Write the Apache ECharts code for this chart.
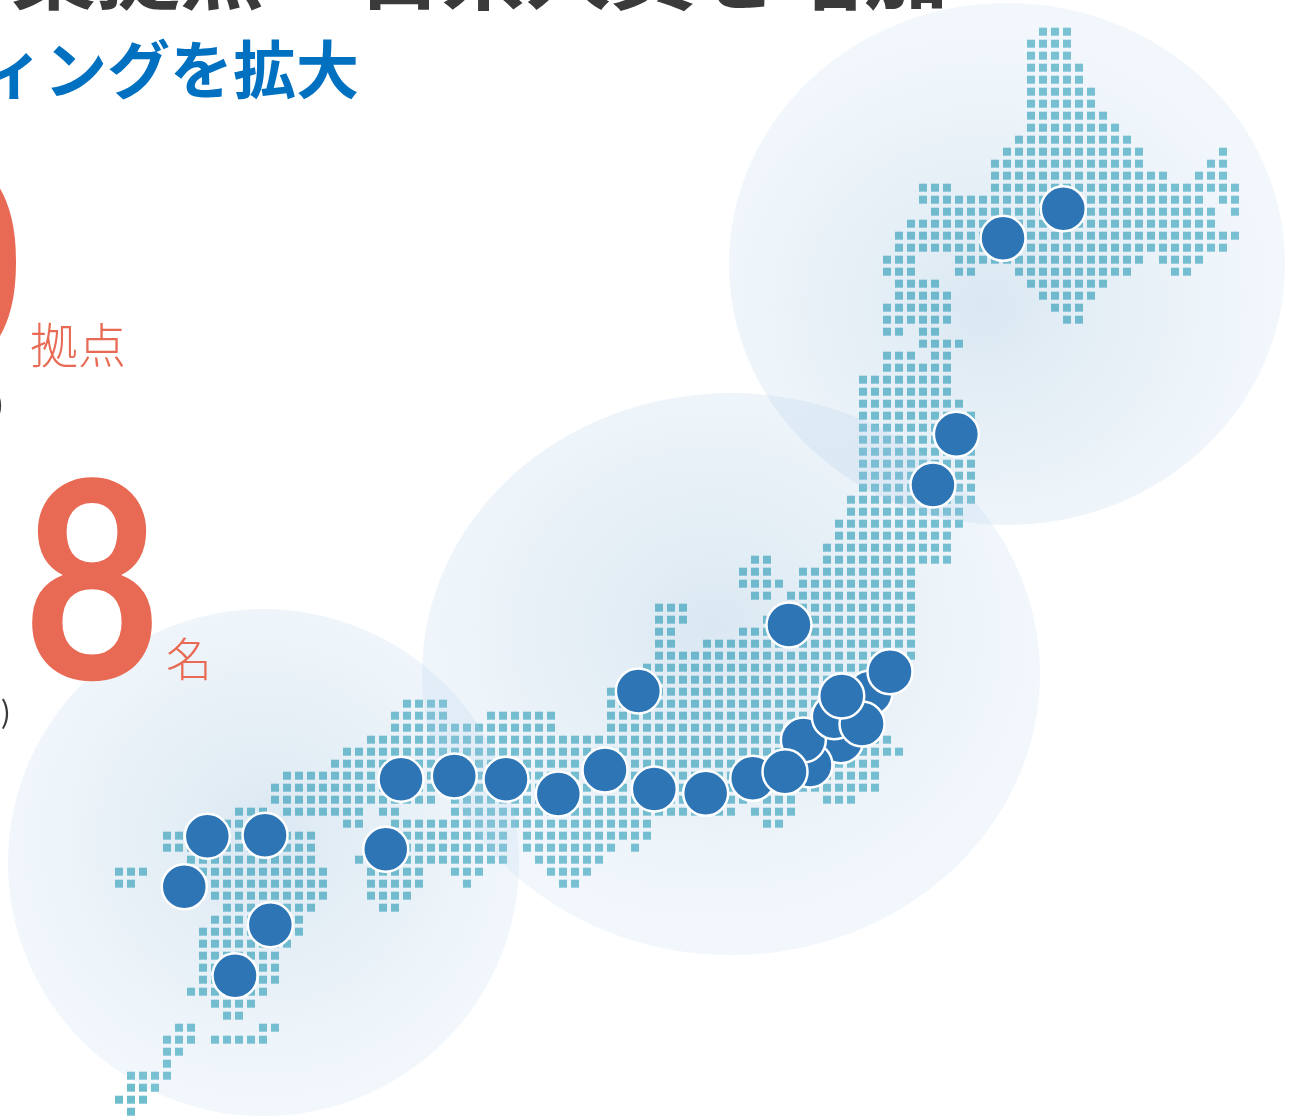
<!DOCTYPE html>
<html lang="ja">
<head>
<meta charset="utf-8">
<title>拠点マップ</title>
<style>
  html, body { margin: 0; padding: 0; background: #fff; overflow: hidden; }
  #map { width: 1297px; height: 1116px; }
</style>
<script src="https://cdn.jsdelivr.net/npm/echarts@6/dist/echarts.min.js"></script>
</head>
<body>
<div id="map"></div>
<script>
// Tile map of Japan: each entry is [row, from, to, from, to, ...] in tile units.
const hokkaidoRows = [
  [0,86,88],[1,85,88],[2,85,88],[3,85,89],[4,85,89],[5,85,90],[6,85,90],[7,85,91],[8,85,92],
  [9,84,93],[10,83,94,101,101],[11,82,94,100,101],[12,82,96,99,101],[13,76,78,82,102],
  [14,76,99,101,102],[15,77,100,102,102],[16,75,100],[17,74,102],[18,74,101],
  [19,73,75,79,94,96,99],[20,73,75,79,80,84,93,97,98],[21,74,77,85,91],[22,74,78,86,90],
  [23,73,78,87,89],[24,73,78,88,89],[25,73,74,76,77]
];
const tohokuRows = [
  [26,76,79],[27,73,75,77,78],[28,73,78],[29,71,78],[30,71,78],[31,71,79],[32,71,80],[33,71,80],
  [34,71,80],[35,71,80],[36,71,80],[37,71,80],[38,71,80],[39,70,80],[40,70,79],[41,69,79],
  [42,69,78],[43,68,78],[44,62,63,68,78],[45,61,63,66,75],[46,61,64,66,75],[47,62,63,65,75]
];
const honshuRows = [
  [48,54,56,65,75],[49,54,56,63,75],[50,54,55,61,75],[51,54,55,58,75],[52,54,75],[53,53,74],
  [54,53,74],[55,50,72],[56,33,36,50,71],[57,32,36,40,45,50,71],[58,32,45,50,72],[59,30,73],
  [60,28,74],[61,27,72],[62,23,72],[63,22,72],[64,22,35,37,61,63,65,68,70],
  [65,19,21,23,29,31,32,37,60,62,65],[66,18,22,28,29,32,53,63,64]
];
const westernRows = [
  [67,13,25,32,41,43,53],[68,13,25,30,41,43,50,52,52],[69,15,25,29,41,44,49],
  [70,9,11,16,26,30,34,37,39,45,48],[71,9,10,17,26,30,34,38,38,46,47],[72,17,26,30,33],
  [73,18,25,31,32],[74,17,24],[75,16,24],[76,16,23],[77,16,22],[78,16,22],[79,16,22],[80,15,21],
  [81,17,20],[82,18,19],[83,14,15,21,22],[84,13,15,17,21],[85,13,14],[86,13,13],[87,10,13],
  [88,10,12],[89,9,11],[90,10,10]
];

// Offices, in tile units; later entries sit on top of earlier ones.
const officeCols = [87.69,82.67,78.78,76.83,64.83,52.28,71.58,73.25,69.14,66.58,66.03,68.61,70.92,69.23,61.81,64.5,57.89,53.61,49.5,45.61,41.25,36.94,32.5,31.23,16.36,21.17,14.44,21.61,18.67];
const officeRows = [14.75,17.22,33.55,37.78,49.44,54.94,55.11,53.33,59.08,61.11,59.03,57.08,57.69,55.36,62.22,61.67,63.47,63.11,61.53,63.53,62.3,62.03,62.3,68.13,67.05,66.97,71.25,74.42,78.67];

// Regional halos: centre column and centre row.
const haloCols = [83, 60, 21.04];
const haloRows = [19.36, 53.53, 69.24];

const headlineLeft = '集提点';
const headlineRight = '日系人員を増加';
const subhead = 'ィングを拡大';
const officeCount = '0';
const officeUnit = '拠点';
const staffCount = '8';
const staffUnit = '名';

const tileData = [];
[hokkaidoRows, tohokuRows, honshuRows, westernRows].forEach(function (group) {
  group.forEach(function (entry) {
    for (let i = 1; i < entry.length; i += 2) {
      for (let c = entry[i]; c <= entry[i + 1]; c++) tileData.push([c, entry[0]]);
    }
  });
});

const haloSizes = [[556, 522], [618, 562], [511, 507]];
const haloFocus = [[0.46, 0.58], [0.47, 0.42], [0.5, 0.45]];
const haloData = haloCols.map(function (c, i) {
  return {
    value: [c, haloRows[i]],
    symbolSize: haloSizes[i],
    itemStyle: {
      color: {
        type: 'radial', x: haloFocus[i][0], y: haloFocus[i][1], r: 0.56,
        colorStops: [
          { offset: 0, color: 'rgba(105,160,200,0.30)' },
          { offset: 0.5, color: 'rgba(135,180,215,0.24)' },
          { offset: 0.95, color: 'rgba(180,210,238,0.22)' }
        ]
      }
    }
  };
});

const CJK = '"Noto Sans CJK JP", sans-serif';
const NUMERAL = 'Lato, "Open Sans", sans-serif';
const RED = '#e96a54';
function label(text, x, y, size, color, weight, align, family, scaleX) {
  return {
    type: 'text', x: x, y: y, scaleX: scaleX || 1, silent: true, z: 10,
    style: {
      text: text, fill: color, font: (weight || 'normal') + ' ' + size + 'px ' + (family || CJK),
      textAlign: align || 'left'
    }
  };
}

const chart = echarts.init(document.getElementById('map'), null, { renderer: 'canvas' });
chart.setOption({
  animation: false,
  backgroundColor: '#ffffff',
  grid: { left: 11, top: 31.7, width: 1284, height: 1080 },
  xAxis: { type: 'value', min: 0, max: 107, show: false },
  yAxis: { type: 'value', min: 0, max: 90, inverse: true, show: false },
  graphic: [
    label(headlineLeft, 12, -71, 84, '#3a3a3a', 'bold'),
    label(headlineRight, 357, -71, 84.5, '#3a3a3a', 'bold'),
    label(subhead, 359, 38, 63, '#0070c0', 'bold', 'right'),
    label(officeCount, 22, 135, 276, RED, 'bold', 'right', NUMERAL, 0.864),
    label(officeUnit, 30, 321, 48, RED, '300'),
    label(')', 4, 389, 30, '#3a3a3a', 'normal', 'right'),
    label(staffCount, 92, 452, 276, RED, 'bold', 'center', NUMERAL, 0.864),
    label(staffUnit, 166, 636, 46, RED, '300'),
    label(')', 11, 697, 30, '#3a3a3a', 'normal', 'right')
  ],
  series: [
    {
      name: 'tiles', type: 'scatter', data: tileData, z: 1, clip: false, silent: true,
      symbol: 'rect', symbolSize: 8, progressive: 0,
      itemStyle: { color: 'rgb(72,172,192)' }
    },
    {
      name: 'halos', type: 'scatter', data: haloData, z: 2, clip: false, silent: true,
      symbol: 'circle'
    },
    {
      name: 'offices', type: 'scatter', z: 3, clip: false, silent: true,
      data: officeCols.map(function (c, i) { return [c, officeRows[i]]; }),
      symbol: 'circle', symbolSize: 45,
      itemStyle: { color: '#2e75b6', borderColor: '#ffffff', borderWidth: 2.5, opacity: 1 }
    }
  ]
});
</script>
</body>
</html>
